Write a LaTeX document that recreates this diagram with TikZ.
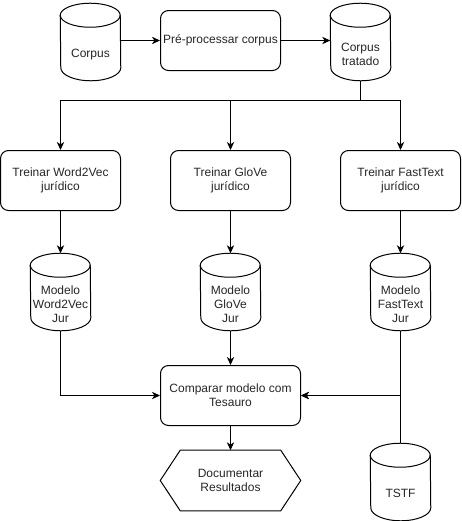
\documentclass[tikz,border=0pt]{standalone}
\usepackage{fontspec}
\setmainfont{Liberation Sans}
\usetikzlibrary{arrows.meta}
\tikzset{
  x=0.75pt, y=-0.75pt,
  ln/.style={line width=0.75pt, draw=black},
  txt/.style={align=center, font=\fontsize{9}{10.5}\selectfont, inner sep=0pt, text=black!85},
  box/.style={ln, txt, rounded corners=6pt, minimum width=90pt, minimum height=45pt},
  widebox/.style={box, minimum width=105pt},
  cylbody/.style={minimum width=45pt, minimum height=57.75pt, inner sep=0pt},
  hexbody/.style={txt, minimum width=105pt, minimum height=45pt},
  arr/.style={ln, -{Stealth[length=6pt,width=5.5pt,inset=1.8pt]}},
}
\newcommand\cylout[1]{%
  \draw[ln, fill=white] ([yshift=-9pt]#1.north west)
    arc[start angle=180, end angle=0, x radius=22.5pt, y radius=9pt]
    -- ([yshift=9.75pt]#1.south east)
    arc[start angle=0, end angle=-180, x radius=22.5pt, y radius=9.75pt]
    -- cycle;
  \draw[ln] ([yshift=-9pt]#1.north west)
    arc[start angle=180, end angle=360, x radius=22.5pt, y radius=9pt];
}
\begin{document}
\begin{tikzpicture}
\useasboundingbox (0,0) rectangle (461,521);
\begin{scope}[shift={(0.5,0.5)}]
% cylinders (bodies)
\node[cylbody] (corpus) at (90,41.5) {};
\node[cylbody] (trat) at (360,41.5) {};
\node[cylbody] (mw2v) at (60,291.5) {};
\node[cylbody] (mglove) at (230,291.5) {};
\node[cylbody] (mft) at (400,291.5) {};
\node[cylbody] (tstf) at (400,481.5) {};
\cylout{corpus}
\cylout{trat}
\cylout{mw2v}
\cylout{mglove}
\cylout{mft}
\cylout{tstf}
\node[txt] (corpusT) at (90,54) {Corpus};
\node[txt] (tratT) at (360,54) {Corpus\\tratado};
\node[txt] (mw2vT) at (60,304) {Modelo\\Word2Vec\\Jur};
\node[txt] (mgloveT) at (230,304) {Modelo\\GloVe\\Jur};
\node[txt] (mftT) at (400,304) {Modelo\\FastText\\Jur};
\node[txt] (tstfT) at (400,493) {TSTF};

% boxes
\node[box] (pre) at (220,40) {Pré-processar corpus};
\node[box] (w2v) at (60,180) {Treinar Word2Vec\\jurídico};
\node[box] (glove) at (230,180) {Treinar GloVe\\jurídico};
\node[box] (ft) at (400,180) {Treinar FastText\\jurídico};
\node[widebox] (comp) at (230,395) {Comparar modelo com\\Tesauro};

% hexagon
\node[hexbody] (doc) at (230,480) {Documentar\\Resultados};
\draw[ln] ([xshift=15pt]doc.north west) -- ([xshift=-15pt]doc.north east)
  -- (doc.east) -- ([xshift=-15pt]doc.south east)
  -- ([xshift=15pt]doc.south west) -- (doc.west) -- cycle;

% connectors
\coordinate (split) at (360,100);
\draw[arr] (corpus.east |- pre.west) -- (pre.west);
\draw[arr] (pre.east) -- (trat.west |- pre.east);
\draw[arr] (trat.south) -- (split) -| (w2v.north);
\draw[arr] (trat.south) -- (split) -| (glove.north);
\draw[arr] (trat.south) -- (split) -| (ft.north);
\draw[arr] (w2v.south) -- (mw2v.north);
\draw[arr] (glove.south) -- (mglove.north);
\draw[arr] (ft.south) -- (mft.north);
\draw[arr] (mw2v.south) |- (comp.west);
\draw[arr] (mglove.south) -- (comp.north);
\draw[arr] (mft.south) |- (comp.east);
\draw[arr] (tstf.north) |- (comp.east);
\draw[arr] (comp.south) -- (doc.north);
\end{scope}
\end{tikzpicture}
\end{document}
